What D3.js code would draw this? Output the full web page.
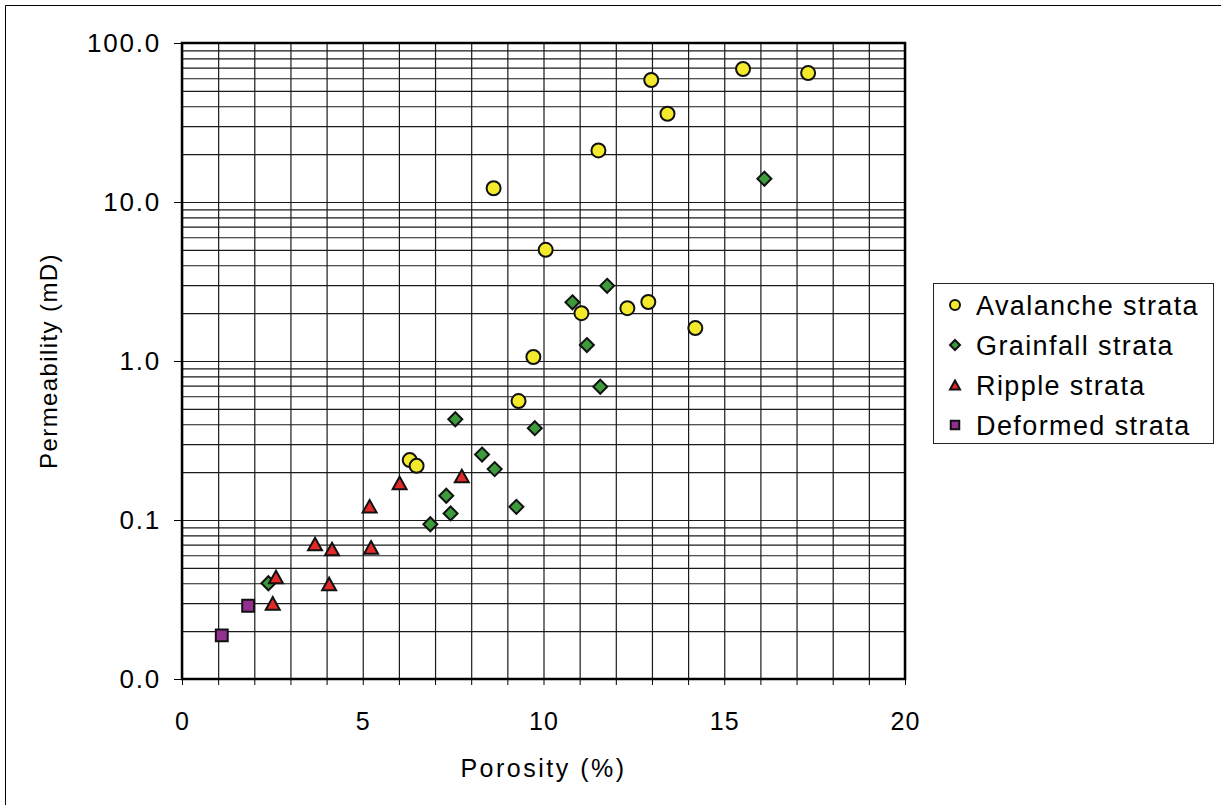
<!DOCTYPE html>
<html>
<head>
<meta charset="utf-8">
<script src="https://cdn.jsdelivr.net/npm/d3@7"></script>
<style>
  body { margin: 0; background: #fff; }
  text { font-family: "Liberation Sans", Arial, sans-serif; fill: #000; }
</style>
</head>
<body>
<script>
// data: porosity (%) vs permeability (mD)
var seriesNames = ['Avalanche strata', 'Grainfall strata', 'Ripple strata', 'Deformed strata']

var avalanchePorosity = [12.98, 15.52, 17.32, 13.43, 11.52, 8.62, 10.06, 11.05, 12.32, 12.9, 14.2, 9.72, 9.31, 6.3, 6.49]
var avalanchePerm = [58.5, 68.6, 64.7, 35.9, 21.1, 12.2, 5.0, 2.0, 2.15, 2.35, 1.61, 1.06, 0.56, 0.238, 0.219]

var grainfallPorosity = [16.11, 11.76, 10.8, 11.2, 11.57, 7.56, 9.76, 8.3, 8.65, 7.31, 7.43, 9.25, 6.87, 2.39]
var grainfallPerm = [14.0, 2.97, 2.34, 1.26, 0.689, 0.43, 0.378, 0.258, 0.209, 0.142, 0.110, 0.121, 0.094, 0.040]

var ripplePorosity = [7.74, 6.02, 5.19, 3.68, 4.15, 5.23, 2.6, 4.07, 2.51]
var ripplePerm = [0.189, 0.171, 0.122, 0.0706, 0.0657, 0.0673, 0.0438, 0.0396, 0.0299]

var deformedPorosity = [1.83, 1.10]
var deformedPerm = [0.0289, 0.0188]

var xTicks = [0, 5, 10, 15, 20]
var yTicks = [0.01, 0.1, 1, 10, 100]
var yTickLabels = ['0.0', '0.1', '1.0', '10.0', '100.0']

var width = 1221
var height = 805
var margin = { top: 43, left: 182, bottom: 126, right: 316 }
var chartWidth = width - margin.left - margin.right
var chartHeight = height - margin.top - margin.bottom

var series = [
  { name: seriesNames[0], shape: 'circle', fill: '#f4ea2c', xs: avalanchePorosity, ys: avalanchePerm },
  { name: seriesNames[1], shape: 'diamond', fill: '#3c9c3c', xs: grainfallPorosity, ys: grainfallPerm },
  { name: seriesNames[2], shape: 'triangle', fill: '#e22a2a', xs: ripplePorosity, ys: ripplePerm },
  { name: seriesNames[3], shape: 'square', fill: '#93308f', xs: deformedPorosity, ys: deformedPerm }
]

function markerPath (shape, s) {
  var p = d3.path()
  if (shape === 'circle') {
    p.arc(0, 0, s, 0, 2 * Math.PI)
  } else if (shape === 'diamond') {
    p.moveTo(0, -s); p.lineTo(s, 0); p.lineTo(0, s); p.lineTo(-s, 0); p.closePath()
  } else if (shape === 'triangle') {
    p.moveTo(0, -s * 0.9); p.lineTo(s, s * 0.9); p.lineTo(-s, s * 0.9); p.closePath()
  } else {
    p.rect(-s * 0.85, -s * 0.85, s * 1.7, s * 1.7)
  }
  return p.toString()
}

var svg = d3.select('body').append('svg')
  .attr('width', width)
  .attr('height', height)

// outer frame (only left and top edges show)
svg.append('path')
  .attr('d', 'M5.5,' + height + 'V5.5H' + width)
  .attr('fill', 'none')
  .attr('stroke', '#000')
  .attr('stroke-width', 1)

var x = d3.scaleLinear()
  .domain([0, 20])
  .range([0, chartWidth])

var y = d3.scaleLog()
  .domain([0.01, 100])
  .range([chartHeight, 0])

var g = svg.append('g')
  .attr('transform', 'translate(' + margin.left + ',' + margin.top + ')')

// grid
g.append('g')
  .attr('class', 'grid')
  .attr('transform', 'translate(0,' + chartHeight + ')')
  .call(d3.axisBottom(x).tickValues(d3.range(0, 21)).tickSize(-chartHeight).tickFormat(''))

g.append('g')
  .attr('class', 'grid')
  .call(d3.axisLeft(y).tickValues(y.ticks()).tickSize(-chartWidth).tickFormat(''))

g.selectAll('.grid .domain').remove()
g.selectAll('.grid line').attr('stroke', '#1a1a1a').attr('stroke-width', 1.2)

// small ticks below the x axis at every unit
g.append('g')
  .attr('transform', 'translate(0,' + chartHeight + ')')
  .call(d3.axisBottom(x).tickValues(d3.range(0, 21)).tickSize(6).tickFormat(''))
  .call(function (a) { a.select('.domain').remove() })

var xAxis = g.append('g')
  .attr('transform', 'translate(0,' + chartHeight + ')')
  .call(d3.axisBottom(x).tickValues(xTicks).tickSize(0).tickPadding(33).tickFormat(d3.format('d')))
xAxis.select('.domain').remove()
xAxis.selectAll('text')
  .style('font-size', '25px')
  .style('letter-spacing', '1px')

var yAxis = g.append('g')
  .call(d3.axisLeft(y).tickValues(yTicks).tickSize(8).tickPadding(13)
    .tickFormat(function (d, i) { return yTickLabels[i] }))
yAxis.select('.domain').remove()
yAxis.selectAll('text')
  .style('font-size', '26px')
  .style('letter-spacing', '1.8px')

// plot frame
g.append('rect')
  .attr('width', chartWidth)
  .attr('height', chartHeight)
  .attr('fill', 'none')
  .attr('stroke', '#000')
  .attr('stroke-width', 2.5)

// points
series.forEach(function (s) {
  g.append('g').selectAll('path')
    .data(s.xs.map(function (v, i) { return [v, s.ys[i]] }))
    .join('path')
    .attr('transform', function (d) { return 'translate(' + x(d[0]) + ',' + y(d[1]) + ')' })
    .attr('d', markerPath(s.shape, 7))
    .attr('fill', s.fill)
    .attr('stroke', '#111')
    .attr('stroke-width', 2)
})

// axis titles
svg.append('text')
  .attr('x', margin.left + chartWidth / 2)
  .attr('y', 777)
  .attr('text-anchor', 'middle')
  .style('font-size', '25px')
  .style('letter-spacing', '2.5px')
  .text('Porosity (%)')

svg.append('text')
  .attr('transform', 'translate(57,' + (margin.top + chartHeight / 2) + ') rotate(-90)')
  .attr('text-anchor', 'middle')
  .style('font-size', '24px')
  .style('letter-spacing', '1.4px')
  .text('Permeability (mD)')

// legend
var legend = svg.append('g')
  .attr('transform', 'translate(933,283)')

legend.append('rect')
  .attr('x', 0.5)
  .attr('y', 0.5)
  .attr('width', 280)
  .attr('height', 160)
  .attr('fill', '#fff')
  .attr('stroke', '#222')
  .attr('stroke-width', 1)

var rows = legend.selectAll('.row')
  .data(series)
  .join('g')
  .attr('class', 'row')
  .attr('transform', function (d, i) { return 'translate(0,' + (22 + i * 40) + ')' })

rows.append('path')
  .attr('transform', 'translate(22,0)')
  .attr('d', function (d) { return markerPath(d.shape, 5) })
  .attr('fill', function (d) { return d.fill })
  .attr('stroke', '#111')
  .attr('stroke-width', 2)

rows.append('text')
  .attr('x', 43)
  .attr('y', 10)
  .style('font-size', '27px')
  .style('letter-spacing', '1.4px')
  .text(function (d) { return d.name })
</script>
</body>
</html>
